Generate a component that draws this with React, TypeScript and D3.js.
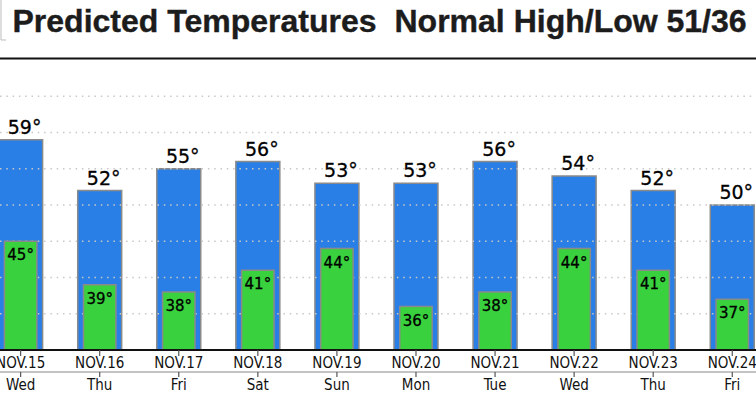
import { useMemo } from "react";
import * as d3 from "d3";

const dates = ["NOV.15", "NOV.16", "NOV.17", "NOV.18", "NOV.19", "NOV.20", "NOV.21", "NOV.22", "NOV.23", "NOV.24"];
const days = ["Wed", "Thu", "Fri", "Sat", "Sun", "Mon", "Tue", "Wed", "Thu", "Fri"];
const highs = [59, 52, 55, 56, 53, 53, 56, 54, 52, 50];
const lows = [45, 39, 38, 41, 44, 36, 38, 44, 41, 37];
const gridTicks = [35, 40, 45, 50, 55, 60, 65];

const W = 756;
const H = 393;
const BLUE = "#2a7fe6";
const GREEN = "#39d13d";
const LABEL_FONT = "'DejaVu Sans', Verdana, sans-serif";
const AXIS_FONT = "'Liberation Sans Narrow', 'DejaVu Sans Condensed', 'Noto Sans', sans-serif";

const App = () => {
  const x = useMemo(
    () => d3.scaleBand<string>().domain(dates).range([-18.9, 771.8]).padding(0),
    []
  );
  const y = useMemo(() => d3.scaleLinear().domain([30, 70]).range([350, 60]), []);

  const bw = x.bandwidth();
  const hiW = bw * 0.556;
  const loW = bw * 0.41;
  const cx = (d: string) => (x(d) ?? 0) + bw / 2;

  return (
    <svg
      width={W}
      height={H}
      style={{ position: "absolute", left: 0, top: 0, background: "#fff" }}
    >
      {/* title */}
      <g
        fontFamily="'Liberation Sans', Arial, sans-serif"
        fontWeight="bold"
        fontSize={32}
        fill="#1c1c1c"
        stroke="#1c1c1c"
        strokeWidth={0.4}
      >
        <text x={12.5} y={32}>Predicted Temperatures</text>
        <text x={394.5} y={32}>Normal High/Low 51/36</text>
      </g>
      <path d="M1,0V40H6" fill="none" stroke="#bbb" strokeWidth={1} />
      <line x1={0} x2={W} y1={58.5} y2={58.5} stroke="#111" strokeWidth={2} />

      {/* high bars */}
      {dates.map((d, i) => (
        <rect
          key={"h" + d}
          x={cx(d) - hiW / 2}
          y={y(highs[i])}
          width={hiW}
          height={y(30) - y(highs[i])}
          fill={BLUE}
          stroke="#8a8a8a"
          strokeWidth={1.5}
        />
      ))}

      {/* grid */}
      {gridTicks.map((t) => (
        <line
          key={t}
          x1={0}
          x2={W}
          y1={y(t)}
          y2={y(t)}
          stroke="#c8c8c8"
          strokeWidth={1.3}
          strokeDasharray="1.5,4.8"
        />
      ))}

      {/* low bars */}
      {dates.map((d, i) => (
        <rect
          key={"l" + d}
          x={cx(d) - loW / 2}
          y={y(lows[i])}
          width={loW}
          height={y(30) - y(lows[i])}
          fill={GREEN}
          stroke="#8a8a8a"
          strokeWidth={1.5}
        />
      ))}

      {/* labels */}
      {dates.map((d, i) => (
        <text
          key={"ht" + d}
          x={cx(d) + 4}
          y={y(highs[i]) - 6}
          textAnchor="middle"
          fontFamily={LABEL_FONT}
          fontSize={19}
          fill="#000"
          stroke="#000"
          strokeWidth={0.3}
        >
          {highs[i]}°
        </text>
      ))}
      {dates.map((d, i) => (
        <text
          key={"lt" + d}
          x={cx(d)}
          y={y(lows[i]) + 19}
          textAnchor="middle"
          fontFamily={LABEL_FONT}
          fontSize={15}
          fill="#000"
          stroke="#000"
          strokeWidth={0.3}
        >
          {lows[i]}°
        </text>
      ))}

      {/* x axis */}
      <line x1={0} x2={W} y1={350} y2={350} stroke="#111" strokeWidth={2} />
      <line x1={0} x2={W} y1={372} y2={372} stroke="#888" strokeWidth={1.2} />
      {dates.map((d, i) => (
        <g key={"ax" + d} transform={`translate(${cx(d)},0)`}>
          <line y1={350} y2={356} stroke="#555" strokeWidth={1.2} />
          <line y1={372} y2={377} stroke="#555" strokeWidth={1.2} />
          <text y={368} textAnchor="middle" fontFamily={AXIS_FONT} fontSize={15} fill="#111">
            {d}
          </text>
          <text y={390} textAnchor="middle" fontFamily={AXIS_FONT} fontSize={15} fill="#111">
            {days[i]}
          </text>
        </g>
      ))}
    </svg>
  );
};

export default App;
